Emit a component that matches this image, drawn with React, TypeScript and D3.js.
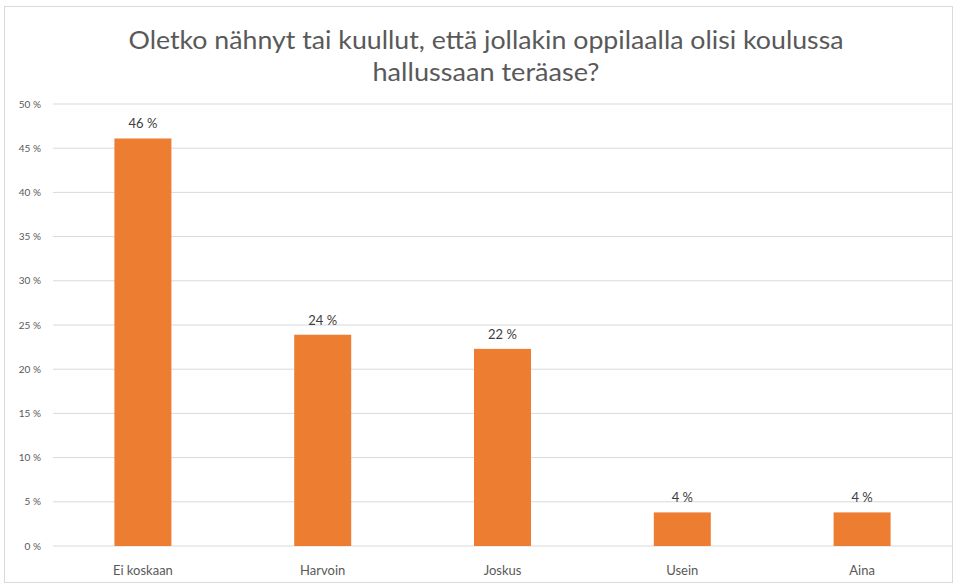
import React from "react";
import * as d3 from "d3";

const categories = ["Ei koskaan", "Harvoin", "Joskus", "Usein", "Aina"];
const values = [46.1, 23.9, 22.3, 3.8, 3.8];
const yTicks = [0, 5, 10, 15, 20, 25, 30, 35, 40, 45, 50];
const titleLines = [
  "Oletko nähnyt tai kuullut, että jollakin oppilaalla olisi koulussa",
  "hallussaan teräase?",
];
const titleWidths = [715, 227];

const W = 956;
const H = 585;
const left = 53;
const right = 952;
const top = 104;
const bottom = 546;

export default function App() {
  const x = d3
    .scaleBand<string>()
    .domain(categories)
    .range([left, right])
    .paddingInner(0.683)
    .paddingOuter(0.3415);
  const y = d3.scaleLinear().domain([0, 50]).range([bottom, top]);
  const font = "Lato, 'Open Sans', sans-serif";
  return (
    <svg
      width={W}
      height={H}
      style={{ position: "absolute", left: 0, top: 0, background: "#fff" }}
      fontFamily={font}
    >
      <rect x={4.5} y={6.5} width={948} height={576} fill="#fff" stroke="#d9d9d9" />
      {titleLines.map((t, i) => (
        <text
          key={i}
          x={486}
          y={49 + i * 32}
          textAnchor="middle"
          fontSize={25}
          fill="#595959"
          textLength={titleWidths[i]}
          lengthAdjust="spacingAndGlyphs"
        >
          {t}
        </text>
      ))}
      {yTicks.map((t) => (
        <g key={t}>
          <line x1={left} x2={right} y1={y(t)} y2={y(t)} stroke="#d9d9d9" strokeWidth={1} />
          <text x={41} y={y(t)} dy="0.35em" textAnchor="end" fontSize={10} fill="#595959">
            {`${t} %`}
          </text>
        </g>
      ))}
      {categories.map((c, i) => (
        <g key={c}>
          <rect
            x={x(c)!}
            y={y(values[i])}
            width={x.bandwidth()}
            height={y(0) - y(values[i])}
            fill="#ed7d31"
          />
          <text
            x={x(c)! + x.bandwidth() / 2}
            y={y(values[i]) - 10}
            textAnchor="middle"
            fontSize={13}
            fill="#404040"
          >
            {`${Math.round(values[i])} %`}
          </text>
          <text
            x={x(c)! + x.bandwidth() / 2}
            y={575}
            textAnchor="middle"
            fontSize={13}
            fill="#595959"
          >
            {c}
          </text>
        </g>
      ))}
    </svg>
  );
}
